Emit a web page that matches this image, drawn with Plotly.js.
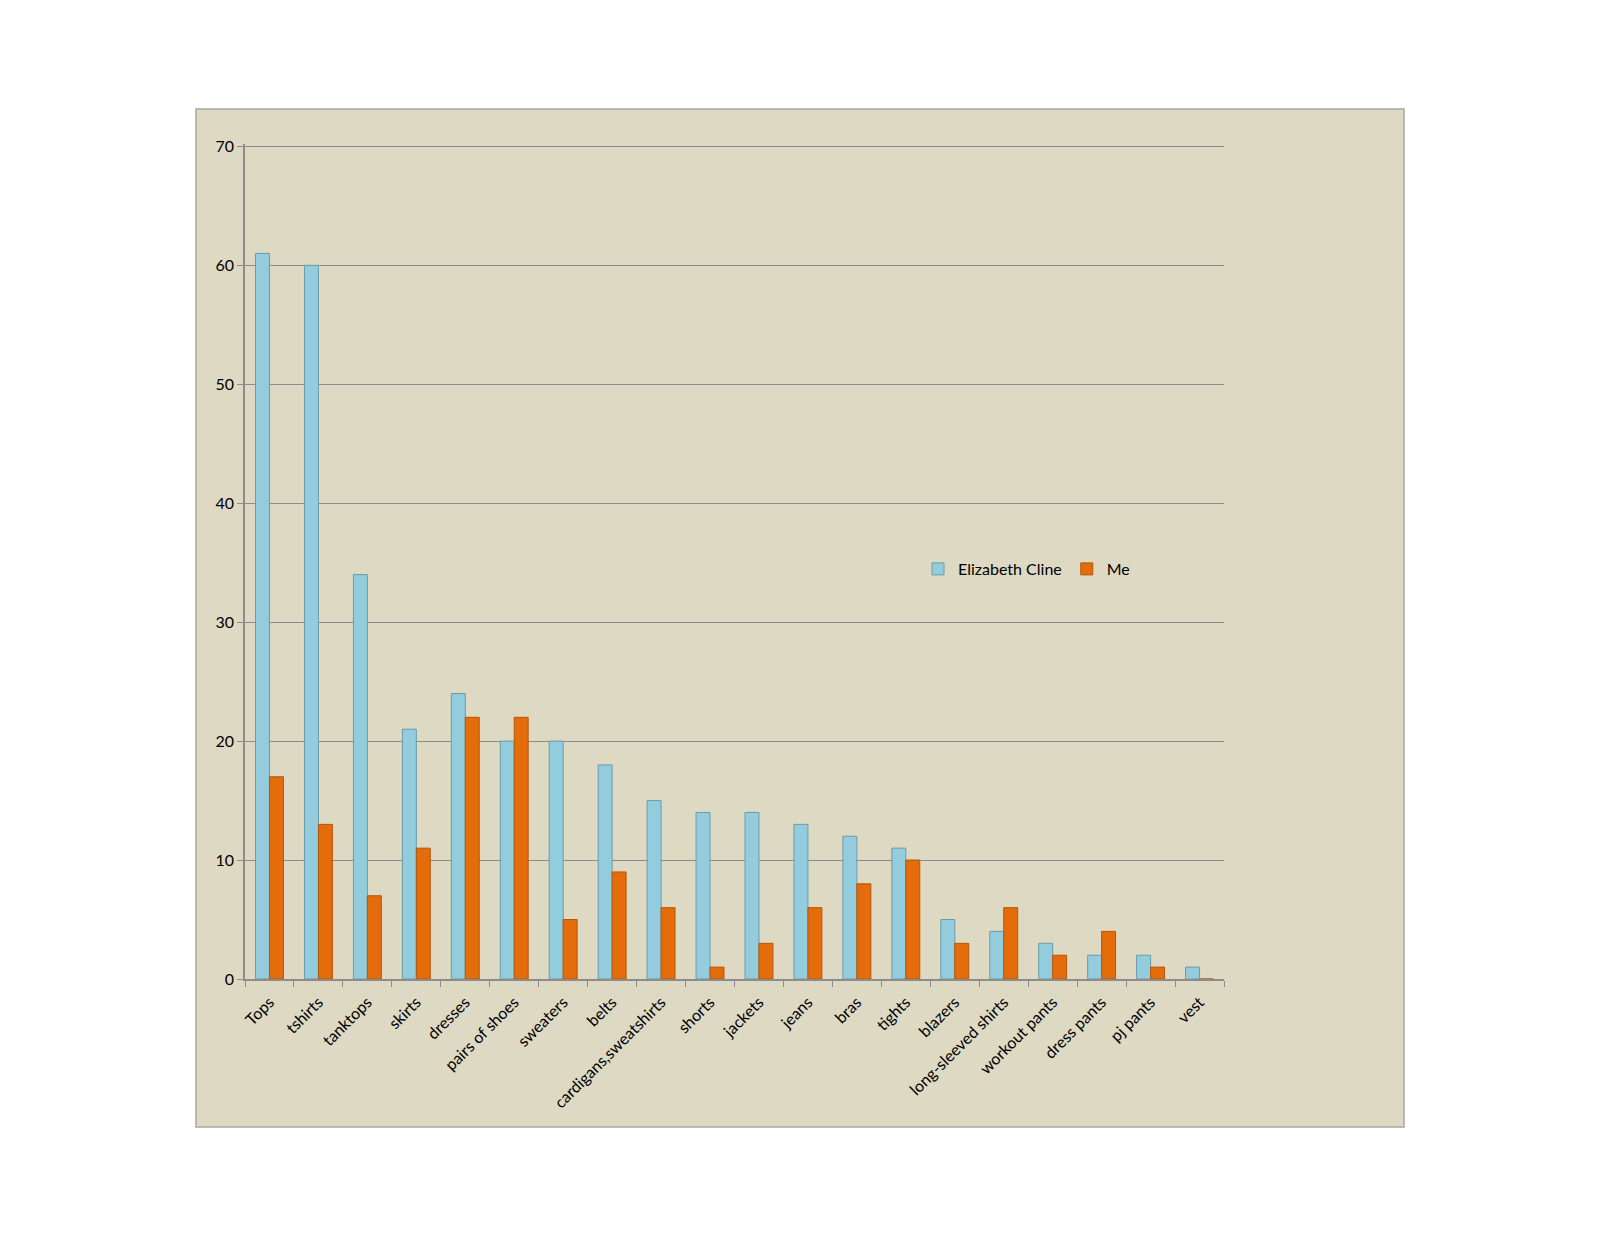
<!DOCTYPE html>
<html>
<head>
<meta charset="utf-8">
<script src="https://cdn.plot.ly/plotly-3.0.1.min.js"></script>
<style>
  body { margin: 0; background: #ffffff; }
  #chart { width: 1600px; height: 1236px; }
</style>
</head>
<body>
<div id="chart"></div>
<script>
// clothing counts
var categories = ['Tops', 'tshirts', 'tanktops', 'skirts', 'dresses', 'pairs of shoes',
  'sweaters', 'belts', 'cardigans,sweatshirts', 'shorts', 'jackets', 'jeans', 'bras',
  'tights', 'blazers', 'long-sleeved shirts', 'workout pants', 'dress pants', 'pj pants', 'vest'];
var elizabeth = [61, 60, 34, 21, 24, 20, 20, 18, 15, 14, 14, 13, 12, 11, 5, 4, 3, 2, 2, 1];
var me = [17, 13, 7, 11, 22, 22, 5, 9, 6, 1, 3, 6, 8, 10, 3, 6, 2, 4, 1, 0];
var yTicks = [0, 10, 20, 30, 40, 50, 60, 70];

var fontFam = 'Lato, "Open Sans", sans-serif';

var trace1 = {
  x: categories,
  y: elizabeth,
  name: 'Elizabeth Cline',
  type: 'bar',
  marker: {color: '#93CDDD', line: {color: '#6A9CAA', width: 1}},
  hoverinfo: 'x+y+name'
};

var trace2 = {
  x: categories,
  y: me,
  name: 'Me',
  type: 'bar',
  marker: {color: '#E46C0A', line: {color: '#B4560A', width: 1}},
  hoverinfo: 'x+y+name'
};

// plot area in page pixels: x 245..1224, y 144..979
var pl = 245, pr = 1224, pt = 144, pb = 979;
var pw = pr - pl, ph = pb - pt;

var layout = {
  width: 1600,
  height: 1236,
  margin: {l: pl, r: 1600 - pr, t: pt, b: 1236 - pb, pad: 0},
  paper_bgcolor: '#ffffff',
  plot_bgcolor: 'rgba(0,0,0,0)',
  font: {family: fontFam, size: 16, color: '#000000'},
  barmode: 'group',
  bargap: 0.43,
  bargroupgap: 0,
  showlegend: true,
  legend: {
    orientation: 'h',
    x: (918 - pl) / pw,
    y: (pb - 569) / ph,
    xanchor: 'left',
    yanchor: 'middle',
    bgcolor: 'rgba(0,0,0,0)',
    font: {family: fontFam, size: 16},
    itemwidth: 30,
    traceorder: 'normal'
  },
  xaxis: {
    type: 'category',
    tickangle: -45,
    tickson: 'boundaries',
    ticks: 'outside',
    ticklen: 6,
    tickcolor: '#8C8C8C',
    showline: true,
    linecolor: '#8C8C8C',
    linewidth: 1.5,
    showgrid: false,
    ticklabelstandoff: 6,
    tickfont: {family: fontFam, size: 16}
  },
  yaxis: {
    range: [0, 70.2],
    tickvals: yTicks,
    ticks: 'outside',
    ticklen: 6,
    tickcolor: '#8C8C8C',
    showline: true,
    linecolor: '#8C8C8C',
    linewidth: 1.5,
    showgrid: true,
    gridcolor: '#8C8C8C',
    gridwidth: 1.2,
    zeroline: false,
    tickfont: {family: fontFam, size: 16},
    ticksuffix: '   '
  },
  shapes: [{
    type: 'rect',
    xref: 'paper',
    yref: 'paper',
    x0: (196 - pl) / pw,
    x1: (1404 - pl) / pw,
    y0: (pb - 1127) / ph,
    y1: (pb - 109) / ph,
    fillcolor: '#DDD9C3',
    line: {color: '#A6A6A6', width: 1.5},
    layer: 'below'
  }]
};

Plotly.newPlot('chart', [trace1, trace2], layout, {displayModeBar: false});
</script>
</body>
</html>
